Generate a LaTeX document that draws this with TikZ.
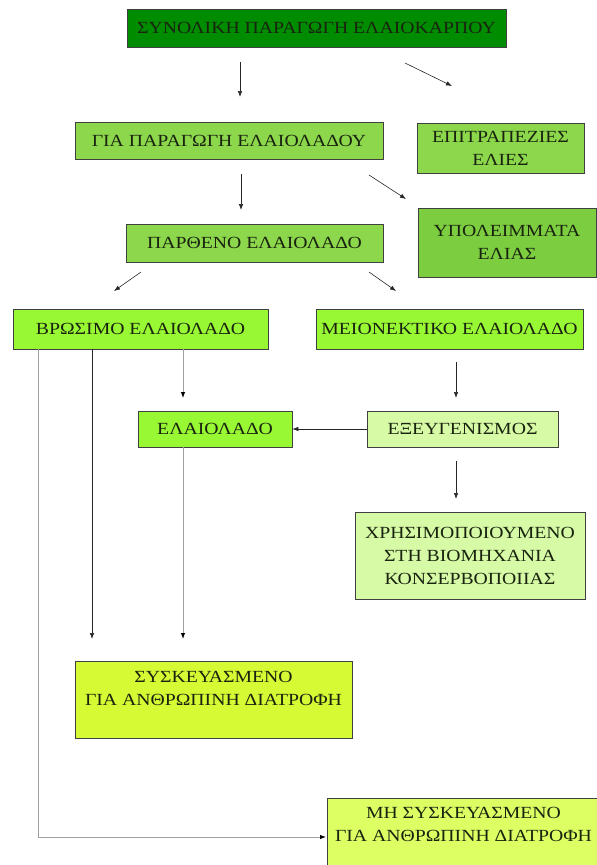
\documentclass[tikz,border=0pt]{standalone}
\usepackage{fontspec}
\setmainfont[FakeStretch=1.16]{Liberation Serif}
\usetikzlibrary{arrows.meta,shadows,calc}
\definecolor{cTop}{RGB}{0,140,0}
\definecolor{cMid}{RGB}{140,215,75}
\definecolor{cMidB}{RGB}{125,205,65}
\definecolor{cLime}{RGB}{152,248,52}
\definecolor{cPale}{RGB}{214,250,165}
\definecolor{cYel}{RGB}{214,250,52}
\definecolor{cYel2}{RGB}{222,255,100}
\definecolor{cLineG}{RGB}{160,160,160}
\definecolor{cText}{RGB}{25,35,15}
\begin{document}
\begin{tikzpicture}[x=1pt,y=-1pt,
  box/.style={draw=black!75, line width=0.7pt, inner sep=0pt, align=center,
    text=cText, font=\fontsize{17}{23}\selectfont,
    drop shadow={shadow xshift=1.2pt, shadow yshift=-1.2pt, opacity=0.35}},
  txt/.style={inner sep=0pt, align=center, text=cText, font=\fontsize{17}{23}\selectfont},
  arr/.style={line width=0.6pt, black!85, -{Latex[length=6pt,width=4.5pt]}},
  garr/.style={line width=0.9pt, cLineG, -{Latex[length=6pt,width=4.5pt,color=black]}},
  gline/.style={line width=0.9pt, cLineG}]
\useasboundingbox (0,0) rectangle (597,865);

\node[box, fill=cTop, minimum width=379pt, minimum height=38pt] (top) at (316.5,28) {ΣΥΝΟΛΙΚΗ ΠΑΡΑΓΩΓΗ ΕΛΑΙΟΚΑΡΠΟΥ};
\node[box, fill=cMid, minimum width=308pt, minimum height=37pt] (gia) at (229,140.5) {ΓΙΑ ΠΑΡΑΓΩΓΗ ΕΛΑΙΟΛΑΔΟΥ};
\node[box, fill=cMid, minimum width=167pt, minimum height=50pt] (epi) at (500.5,148) {ΕΠΙΤΡΑΠΕΖΙΕΣ\\ΕΛΙΕΣ};
\node[box, fill=cMidB, minimum width=178pt, minimum height=69pt] (ypo) at (507,242.5) {ΥΠΟΛΕΙΜΜΑΤΑ\\ΕΛΙΑΣ};
\node[box, fill=cMid, minimum width=257pt, minimum height=38pt] (par) at (254.5,243) {ΠΑΡΘΕΝΟ ΕΛΑΙΟΛΑΔΟ};
\node[box, fill=cLime, minimum width=255pt, minimum height=40pt] (vro) at (140.5,329) {ΒΡΩΣΙΜΟ ΕΛΑΙΟΛΑΔΟ};
\node[box, fill=cLime, minimum width=267pt, minimum height=40pt] (mei) at (449.5,329) {ΜΕΙΟΝΕΚΤΙΚΟ ΕΛΑΙΟΛΑΔΟ};
\node[box, fill=cLime, minimum width=154pt, minimum height=36pt] (ela) at (215,429) {ΕΛΑΙΟΛΑΔΟ};
\node[box, fill=cPale, minimum width=191pt, minimum height=36pt] (exe) at (462.5,429) {ΕΞΕΥΓΕΝΙΣΜΟΣ};
\node[box, fill=cPale, minimum width=230pt, minimum height=87pt] (xri) at (470,555.5) {ΧΡΗΣΙΜΟΠΟΙΟΥΜΕΝΟ\\ΣΤΗ ΒΙΟΜΗΧΑΝΙΑ\\ΚΟΝΣΕΡΒΟΠΟΙΙΑΣ};
\node[box, fill=cYel, minimum width=277pt, minimum height=77pt] (sys) at (213.5,699.5) {};
\node[txt, anchor=north] (systxt) at ($(sys.north)+(0,10)$) {ΣΥΣΚΕΥΑΣΜΕΝΟ\\ΓΙΑ ΑΝΘΡΩΠΙΝΗ ΔΙΑΤΡΟΦΗ};
\node[box, fill=cYel2, minimum width=273pt, minimum height=70pt] (mi) at (463.5,833) {};
\node[txt, anchor=north] (mitxt) at ($(mi.north)+(0,9)$) {ΜΗ ΣΥΣΚΕΥΑΣΜΕΝΟ\\ΓΙΑ ΑΝΘΡΩΠΙΝΗ ΔΙΑΤΡΟΦΗ};

% free arrows between boxes
\coordinate (a1s) at (240,62);  \coordinate (a1e) at (240,97);
\coordinate (a2s) at (405,63);  \coordinate (a2e) at (452,86);
\coordinate (a3s) at (241,174); \coordinate (a3e) at (241,210);
\coordinate (a4s) at (369,175); \coordinate (a4e) at (406,199);
\coordinate (a5s) at (141,272); \coordinate (a5e) at (114,291);
\coordinate (a6s) at (369,272); \coordinate (a6e) at (396,291);
\draw[arr] (a1s) -- (a1e);
\draw[arr] (a2s) -- (a2e);
\draw[arr] (a3s) -- (a3e);
\draw[arr] (a4s) -- (a4e);
\draw[arr] (a5s) -- (a5e);
\draw[arr] (a6s) -- (a6e);

\coordinate (m1s) at (456,362); \coordinate (m1e) at (456,398);
\draw[arr] (m1s) -- (m1e);
\draw[arr] (exe.west) -- (ela.east);
\coordinate (x1s) at (456,461); \coordinate (x1e) at (456,499);
\draw[arr] (x1s) -- (x1e);

% from vrosimo
\coordinate (v1) at (38,349); \coordinate (v1b) at (38,837); \coordinate (v1e) at (326,837);
\draw[gline] (v1) -- (v1b);
\draw[garr] (v1b) -- (v1e);
\coordinate (v2) at (92,349); \coordinate (v2e) at (92,639);
\draw[arr] (v2) -- (v2e);
\coordinate (v3) at (183,349); \coordinate (v3e) at (183,398);
\draw[garr] (v3) -- (v3e);
\coordinate (e1) at (183,447); \coordinate (e1e) at (183,639);
\draw[garr] (e1) -- (e1e);
\end{tikzpicture}
\end{document}
